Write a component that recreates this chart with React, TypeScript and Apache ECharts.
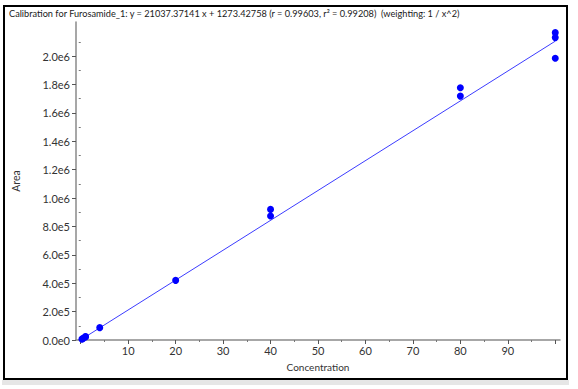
import React, { useEffect, useRef } from "react";
import * as echarts from "echarts";

const titleText =
  "Calibration for Furosamide_1: y = 21037.37141 x + 1273.42758 (r = 0.99603, r\u00B2 = 0.99208)  (weighting: 1 / x^2)";
const slope = 21037.37141;
const intercept = 1273.42758;

const concentrations = [0.25, 0.5, 1, 1, 4, 20, 40, 40, 80, 80, 100, 100, 100];
const areas = [6000, 11500, 22000, 24000, 87000, 420000, 873000, 920000, 1718000, 1777000, 1985000, 2130000, 2165000];

const xMajorTicks = [0, 10, 20, 30, 40, 50, 60, 70, 80, 90, 100];
const xLabelValues = [10, 20, 30, 40, 50, 60, 70, 80, 90];
const xMinorTicks = [5, 15, 25, 35, 45, 55, 65, 75, 85, 95];
const yMajorTicks = [0, 2e5, 4e5, 6e5, 8e5, 1e6, 1.2e6, 1.4e6, 1.6e6, 1.8e6, 2e6];
const yMinorTicks = [1e5, 3e5, 5e5, 7e5, 9e5, 1.1e6, 1.3e6, 1.5e6, 1.7e6, 1.9e6, 2.1e6];

const FONT = "Lato, 'Noto Sans', sans-serif";

export default function App() {
  const ref = useRef<HTMLDivElement>(null);
  useEffect(() => {
    document.body.style.margin = "0";
    const chart = echarts.init(ref.current!, null, { renderer: "svg" });
    const xMin = Math.min(...concentrations);
    const xMax = Math.max(...concentrations);
    const fitLine = [
      [xMin, slope * xMin + intercept],
      [xMax, slope * xMax + intercept],
    ];
    const axisLineStyle = { color: "#8a8a8a", width: 1.5 };
    chart.setOption({
      animation: false,
      backgroundColor: "#ffffff",
      textStyle: { fontFamily: FONT },
      grid: { left: 76, right: 18, top: 22, bottom: 49 },
      graphic: [
        {
          type: "rect",
          shape: { x: 2, y: 380, width: 567, height: 5 },
          style: { fill: "#e6e6e6" },
          silent: true,
          z: -1,
        },
        {
          type: "rect",
          shape: { x: 4, y: 6, width: 563, height: 373 },
          style: { fill: "none", stroke: "#000000", lineWidth: 2 },
          silent: true,
        },
        {
          type: "text",
          left: 9,
          top: 9,
          style: { text: titleText, fontSize: 9.2, fill: "#1a1a1a", fontFamily: FONT },
        },
      ],
      xAxis: [
        {
          type: "value",
          min: -1,
          max: 101,
          name: "Concentration",
          nameLocation: "middle",
          nameGap: 22,
          nameTextStyle: { fontSize: 10, color: "#333333", fontFamily: FONT },
          axisLine: { show: true, onZero: false, lineStyle: axisLineStyle },
          axisTick: { show: true, customValues: xMajorTicks, length: 4, lineStyle: { color: "#555" } },
          axisLabel: { customValues: xLabelValues, fontSize: 11, color: "#333333", margin: 5 },
          splitLine: { show: false },
        },
        {
          type: "value",
          min: -1,
          max: 101,
          position: "bottom",
          axisLine: { show: false },
          axisTick: { show: true, customValues: xMinorTicks, length: 2, lineStyle: { color: "#777" } },
          axisLabel: { show: false },
          splitLine: { show: false },
        },
      ],
      yAxis: [
        {
          type: "value",
          min: 0,
          max: 2.24e6,
          name: "Area",
          nameLocation: "middle",
          nameGap: 55,
          nameRotate: 90,
          nameTextStyle: { fontSize: 10.5, color: "#333333", fontFamily: FONT },
          axisLine: { show: true, onZero: false, lineStyle: axisLineStyle },
          axisTick: { show: true, customValues: yMajorTicks, length: 4, lineStyle: { color: "#555" } },
          axisLabel: {
            customValues: yMajorTicks,
            fontSize: 11,
            color: "#333333",
            margin: 6,
            formatter: (v: number) => v.toExponential(1).replace("e+", "e"),
          },
          splitLine: { show: false },
        },
        {
          type: "value",
          min: 0,
          max: 2.24e6,
          position: "left",
          axisLine: { show: false },
          axisTick: { show: true, customValues: yMinorTicks, length: 2, lineStyle: { color: "#777" } },
          axisLabel: { show: false },
          splitLine: { show: false },
        },
      ],
      series: [
        {
          type: "line",
          data: fitLine,
          showSymbol: false,
          symbol: "none",
          lineStyle: { color: "#3c3cff", width: 1 },
          z: 2,
        },
        {
          type: "scatter",
          data: concentrations.map((c, i) => [c, areas[i]]),
          symbol: "circle",
          symbolSize: 7,
          itemStyle: { color: "#0000ff", opacity: 1 },
          z: 3,
        },
      ],
    });
    return () => chart.dispose();
  }, []);
  return <div ref={ref} style={{ width: 578, height: 389 }} />;
}
